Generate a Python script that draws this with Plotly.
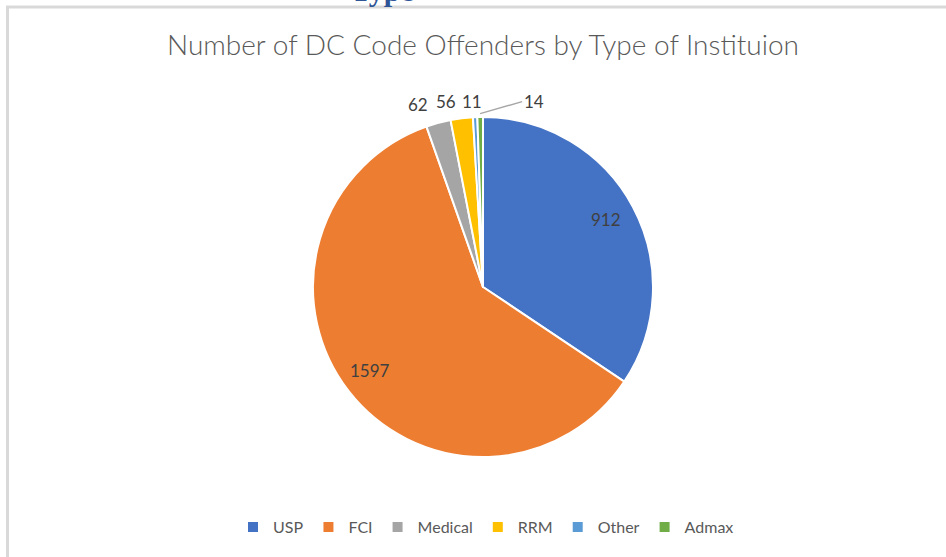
import math
import plotly.graph_objects as go

categories = ["USP", "FCI", "Medical", "RRM", "Other", "Admax"]
values = [912, 1597, 62, 56, 11, 14]
colors = ["#4472C4", "#ED7D31", "#A5A5A5", "#FFC000", "#5B9BD5", "#70AD47"]
title_text = "Number of DC Code Offenders by Type of Instituion"

W, H = 946, 557
CX, CY, R = 483, 287, 170

fig = go.Figure()
fig.add_trace(go.Pie(
    labels=categories, values=values, sort=False, direction="clockwise", rotation=0,
    marker=dict(colors=colors, line=dict(color="white", width=2)),
    textinfo="none", hoverinfo="label+value",
    domain=dict(x=[(CX - R) / W, (CX + R) / W], y=[1 - (CY + R) / H, 1 - (CY - R) / H]),
))

total = sum(values)
mids = []
acc = 0
for v in values:
    mids.append((acc + v / 2) / total * 2 * math.pi)
    acc += v

def px(ang, rf):
    x = CX + rf * R * math.sin(ang)
    y = CY - rf * R * math.cos(ang)
    return x / W, 1 - y / H

label_font = dict(family="Lato", size=17, color="#404040")
# label placement style: (radius factor, x nudge px, y nudge px)
label_style = [(0.82, 0, 2), (0.84, 0, -8), (1.1, -16, 15), (1.1, -14, 12), (1.1, -2, 11)]
annotations = []
for i, (rf, dx, dy) in enumerate(label_style):
    x, y = px(mids[i], rf)
    annotations.append(dict(x=x, y=y, xref="paper", yref="paper", text=str(values[i]),
                            showarrow=False, xshift=dx, yshift=dy, font=label_font))
# Admax label with leader line
x, y = px(mids[5], 1.02)
annotations.append(dict(x=x, y=y, xref="paper", yref="paper", text=str(values[5]),
                        showarrow=True, arrowhead=0, arrowwidth=1.5, arrowcolor="#A6A6A6",
                        ax=42, ay=-12, xanchor="left", standoff=0, font=label_font))
# fragment of document heading cut at top
annotations.append(dict(x=382 / W, y=1 - 9 / H, xref="paper", yref="paper", text="<b>Type</b>",
                        showarrow=False, yanchor="bottom",
                        font=dict(family="Liberation Serif", size=30, color="#2F5597")))

fig.update_layout(
    width=W, height=H, margin=dict(l=0, r=0, t=0, b=0),
    paper_bgcolor="white", plot_bgcolor="white",
    title=dict(text=title_text, x=CX / W, xanchor="center", y=1 - 45 / H, yanchor="middle",
               font=dict(family="Lato", size=28, color="#595959", weight=300)),
    legend=dict(orientation="h", x=486 / W, xanchor="center", y=1 - 527 / H, yanchor="middle",
                font=dict(family="Lato", size=16, color="#595959"), traceorder="normal"),
    annotations=annotations,
    shapes=[dict(type="rect", xref="paper", yref="paper", x0=7.5 / W, x1=1.02, y0=-0.02, y1=1 - 7 / H,
                 line=dict(color="#D9D9D9", width=3), fillcolor="rgba(0,0,0,0)")],
)

fig.write_html("out.html", post_script="document.body.style.margin='0';",
               config={"displayModeBar": False})
